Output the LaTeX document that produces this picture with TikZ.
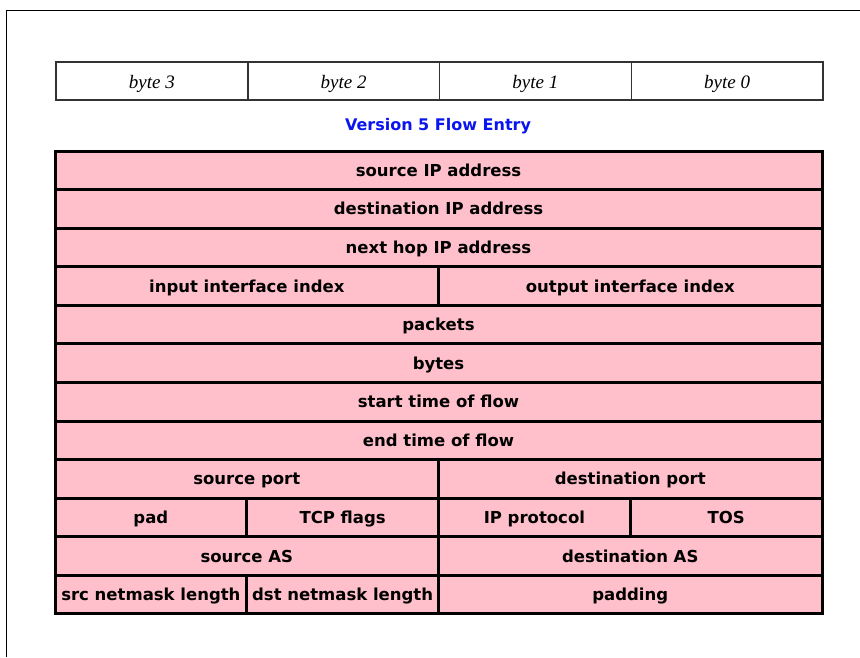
\documentclass[tikz,border=0pt]{standalone}
\usepackage{fontspec}
\newfontfamily\cellfont{DejaVu Sans}
\newfontfamily\bytefont{Liberation Serif}
\definecolor{cellpink}{HTML}{FFC0CB}
\definecolor{titleblue}{HTML}{0A14F0}
\definecolor{bytegray}{HTML}{333333}

% one field of the flow record: name, first column, column span, row, label
\newcommand\fcell[5]{%
  \node[fieldcell, minimum width=#3*191.75pt]
    (#1) at ({55+(#2+#3/2)*191.75}, {151+(#4-0.5)*38.58}) {#5};}

\tikzset{
  fieldcell/.style={draw=black, line width=3pt, fill=cellpink, rectangle,
    inner sep=0pt, outer sep=0pt, minimum height=38.58pt,
    text height=15pt, text depth=3pt,
    font=\cellfont\bfseries\fontsize{16.5}{20}\selectfont},
  bytecell/.style={draw=bytegray, line width=1.5pt, fill=white, rectangle,
    inner sep=0pt, outer sep=0pt, minimum width=191.75pt, minimum height=38pt,
    text height=18pt, text depth=4pt,
    font=\bytefont\itshape\fontsize{19}{22}\selectfont},
  heading/.style={text=titleblue, inner sep=0pt, anchor=base,
    font=\cellfont\bfseries\fontsize{16}{19}\selectfont},
  frameline/.style={draw=black, line width=1.5pt}
}

\begin{document}
\begin{tikzpicture}[x=1pt, y=-1pt]
  \useasboundingbox (0,0) rectangle (860,657);
  \fill[white] (0,0) rectangle (860,657);

  % page frame
  \draw[frameline] (6.5,657) -- (6.5,10.5) -- (860,10.5);

  % byte order header
  \node[bytecell] (b3) at ({56+0.5*191.75}, 81) {byte 3};
  \node[bytecell] (b2) at ({56+1.5*191.75}, 81) {byte 2};
  \node[bytecell] (b1) at ({56+2.5*191.75}, 81) {byte 1};
  \node[bytecell] (b0) at ({56+3.5*191.75}, 81) {byte 0};

  \node[heading] (title) at (438, 130) {Version 5 Flow Entry};

  % record fields, one 32-bit word per row
  \fcell{srcaddr}{0}{4}{1}{source IP address}
  \fcell{dstaddr}{0}{4}{2}{destination IP address}
  \fcell{nexthop}{0}{4}{3}{next hop IP address}
  \fcell{input}{0}{2}{4}{input interface index}
  \fcell{output}{2}{2}{4}{output interface index}
  \fcell{dpkts}{0}{4}{5}{packets}
  \fcell{doctets}{0}{4}{6}{bytes}
  \fcell{first}{0}{4}{7}{start time of flow}
  \fcell{last}{0}{4}{8}{end time of flow}
  \fcell{srcport}{0}{2}{9}{source port}
  \fcell{dstport}{2}{2}{9}{destination port}
  \fcell{pad}{0}{1}{10}{pad}
  \fcell{tcpflags}{1}{1}{10}{TCP flags}
  \fcell{prot}{2}{1}{10}{IP protocol}
  \fcell{tos}{3}{1}{10}{TOS}
  \fcell{srcas}{0}{2}{11}{source AS}
  \fcell{dstas}{2}{2}{11}{destination AS}
  \fcell{srcmask}{0}{1}{12}{src netmask length}
  \fcell{dstmask}{1}{1}{12}{dst netmask length}
  \fcell{padding}{2}{2}{12}{padding}
\end{tikzpicture}
\end{document}
